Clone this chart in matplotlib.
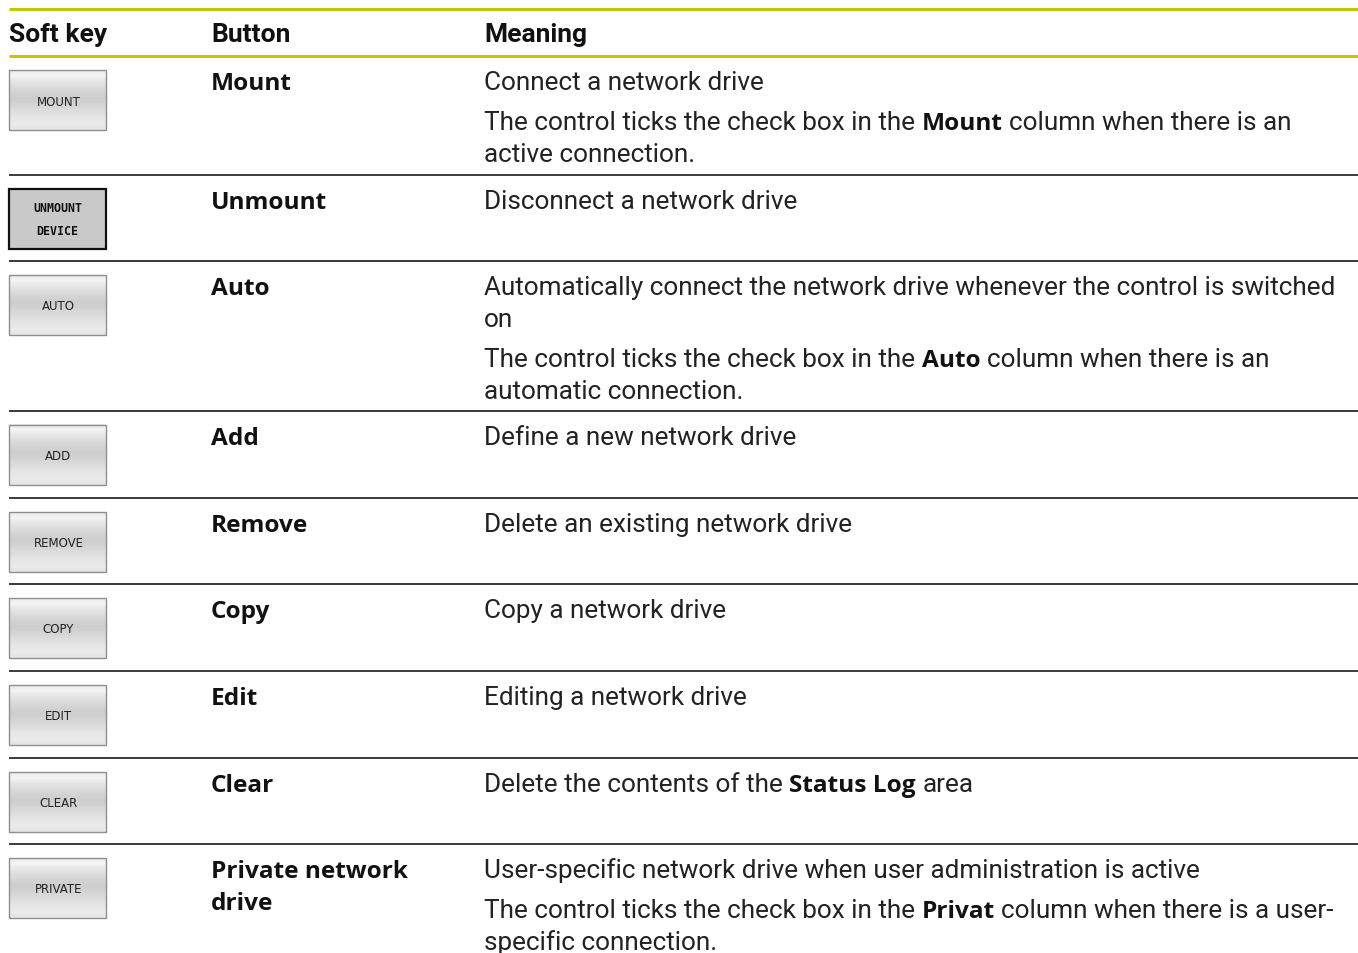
import numpy as np
import matplotlib
matplotlib.use("Agg")
import matplotlib.pyplot as plt
from matplotlib.patches import Rectangle

# table content
headers = ["Soft key", "Button", "Meaning"]
softkeys = ["MOUNT", "UNMOUNT\nDEVICE", "AUTO", "ADD", "REMOVE", "COPY", "EDIT", "CLEAR", "PRIVATE"]
buttons = ["Mount", "Unmount", "Auto", "Add", "Remove", "Copy", "Edit", "Clear", "Private network\ndrive"]
# each meaning: list of paragraphs, paragraph = list of lines, line = list of (text, bold)
meanings = [
    [[[("Connect a network drive", False)]],
     [[("The control ticks the check box in the", False), ("Mount", True), ("column when there is an", False)],
      [("active connection.", False)]]],
    [[[("Disconnect a network drive", False)]]],
    [[[("Automatically connect the network drive whenever the control is switched", False)],
      [("on", False)]],
     [[("The control ticks the check box in the", False), ("Auto", True), ("column when there is an", False)],
      [("automatic connection.", False)]]],
    [[[("Define a new network drive", False)]]],
    [[[("Delete an existing network drive", False)]]],
    [[[("Copy a network drive", False)]]],
    [[[("Editing a network drive", False)]]],
    [[[("Delete the contents of the", False), ("Status Log", True), ("area", False)]]],
    [[[("User-specific network drive when user administration is active", False)]],
     [[("The control ticks the check box in the", False), ("Privat", True), ("column when there is a user-", False)],
      [("specific connection.", False)]]],
]
pressed = [False, True, False, False, False, False, False, False, False]

# layout (pixels)
W, H = 1358, 954
header_lines = [10, 57]
row_tops = [57, 176, 262, 412, 499, 585, 672, 759, 845]
col_x = [9, 211, 484]
accent = "#c2c800"

fig = plt.figure(figsize=(W / 100, H / 100), dpi=100)
ax = fig.add_axes([0, 0, 1, 1])
ax.set_xlim(0, W)
ax.set_ylim(H, 0)
ax.axis("off")

reg = dict(family=["Roboto", "DejaVu Sans"], fontsize=18.85, color="#222222")
bold = dict(family=["Open Sans", "DejaVu Sans"], fontsize=17.6, fontweight="bold", color="#111111")
head = dict(family=["Roboto", "DejaVu Sans"], fontsize=19, fontweight="bold", color="#111111")

for y in header_lines:
    ax.plot([9, W], [y, y], color=accent, lw=2.2, solid_capstyle="butt")
for y in row_tops[1:]:
    ax.plot([9, W], [y, y], color="#3a3a3a", lw=1.4, solid_capstyle="butt")

for x, h in zip(col_x, headers):
    ax.text(x, 42, h, va="baseline", ha="left", **head)

fig.canvas.draw()
renderer = fig.canvas.get_renderer()


def width_of(s, props):
    t = ax.text(0, 0, s, **props)
    w = t.get_window_extent(renderer).width
    t.remove()
    return w


space_reg = width_of("a a", reg) - width_of("aa", reg)
space_bold = width_of("a a", bold) - width_of("aa", bold)

# gradient for normal soft keys
g = np.array([0.93, 0.96, 0.92, 0.89, 0.86, 0.84, 0.82, 0.81, 0.82, 0.84, 0.86, 0.88, 0.90, 0.91, 0.92, 0.90])
grad = np.repeat(g[:, None, None], 3, axis=2)

for i, top in enumerate(row_tops):
    base = top + 33
    # soft key
    bx, by, bw, bh = 9, top + 14, 97, 60
    if pressed[i]:
        ax.add_patch(Rectangle((bx, by), bw, bh, facecolor="#c9c9c9", edgecolor="#111111", lw=1.6, zorder=2))
        ax.text(bx + bw / 2, by + bh / 2, softkeys[i], ha="center", va="center", fontsize=8.4,
                family="DejaVu Sans Mono", fontweight="bold", color="#111111", linespacing=2.0, zorder=3)
    else:
        ax.imshow(grad, extent=(bx, bx + bw, by + bh, by), aspect="auto", interpolation="bilinear", zorder=1)
        ax.add_patch(Rectangle((bx, by), bw, bh, facecolor="none", edgecolor="#8f8f8f", lw=1.0, zorder=2))
        ax.text(bx + bw / 2 + 1, by + bh / 2 + 1, softkeys[i], ha="center", va="center", fontsize=8.5,
                family="DejaVu Sans", color="#222222", zorder=3)
    # button name
    for k, line in enumerate(buttons[i].split("\n")):
        ax.text(col_x[1], base + k * 32, line, va="baseline", ha="left", **bold)
    # meaning
    y = base
    for p, para in enumerate(meanings[i]):
        if p > 0:
            y += 40
        for k, line in enumerate(para):
            if k > 0:
                y += 32
            x = col_x[2]
            for s, (txt, isb) in enumerate(line):
                props = bold if isb else reg
                if s > 0:
                    x += space_bold if isb else space_reg
                ax.text(x, y, txt, va="baseline", ha="left", **props)
                x += width_of(txt, props)

ax.set_xlim(0, W)
ax.set_ylim(H, 0)
fig.savefig("out.png", dpi=100, facecolor="white")
